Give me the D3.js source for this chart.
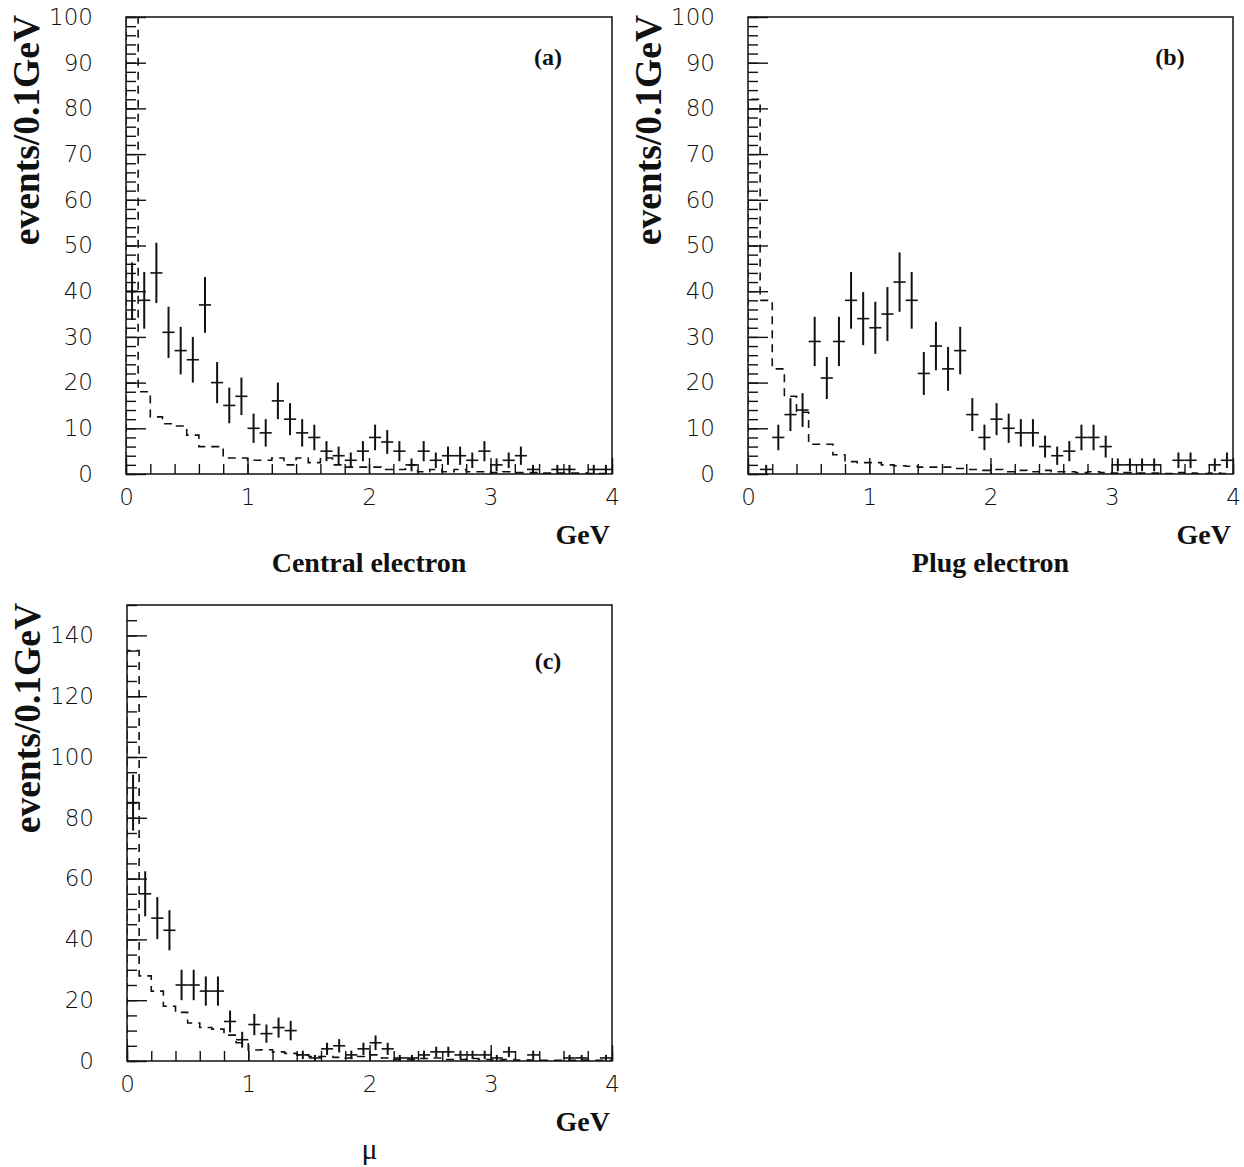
<!DOCTYPE html>
<html>
<head>
<meta charset="utf-8">
<script src="https://cdn.jsdelivr.net/npm/d3@7"></script>
<style>
body { margin: 0; background: #fff; }
svg { display: block; }
</style>
</head>
<body>
<svg id="chart" width="1244" height="1167"></svg>
<script>
// bin lower edges in GeV (bins are 0.1 GeV wide)
var binLow = [0.0, 0.1, 0.2, 0.3, 0.4, 0.5, 0.6, 0.7, 0.8, 0.9,
              1.0, 1.1, 1.2, 1.3, 1.4, 1.5, 1.6, 1.7, 1.8, 1.9,
              2.0, 2.1, 2.2, 2.3, 2.4, 2.5, 2.6, 2.7, 2.8, 2.9,
              3.0, 3.1, 3.2, 3.3, 3.4, 3.5, 3.6, 3.7, 3.8, 3.9];
var binWidth = 0.1;

// (a) central electron: data points, error bars, dashed histogram
var centralData = [40, 38, 44, 31, 27, 25, 37, 20, 15, 17,
                   10, 9, 16, 12, 9, 8, 5, 4, 3, 5,
                   8, 7, 5, 2, 5, 3, 4, 4, 3, 5,
                   2, 3, 4, 1, null, 1, 1, null, 1, 1];
var centralErr = [6.3, 6.2, 6.6, 5.6, 5.2, 5.0, 6.1, 4.5, 3.9, 4.1,
                  3.2, 3.0, 4.0, 3.5, 3.0, 2.8, 2.2, 2.0, 1.7, 2.2,
                  2.8, 2.6, 2.2, 1.4, 2.2, 1.7, 2.0, 2.0, 1.7, 2.2,
                  1.4, 1.7, 2.0, 1.0, 0, 1.0, 1.0, 0, 1.0, 1.0];
var centralBkg = [130, 18, 12.5, 11, 10.5, 8.5, 6, 6, 3.5, 3.5,
                  3, 3, 3.5, 2, 3.5, 2.5, 3.5, 2, 1.5, 1.5,
                  1.5, 1, 1, 2, 0.5, 1, 0.5, 1, 0.5, 0.5,
                  0.3, 0.5, 0.3, 0.3, 0.2, 0.2, 0.2, 0.2, 0.1, 0.1];

// (b) plug electron
var plugData = [null, 1, 8, 13, 14, 29, 21, 29, 38, 34,
                32, 35, 42, 38, 22, 28, 23, 27, 13, 8,
                12, 10, 9, 9, 6, 4, 5, 8, 8, 6,
                2, 2, 2, 2, null, 3, 3, null, 2, 3];
var plugErr = [0, 1.0, 2.8, 3.6, 3.7, 5.4, 4.6, 5.4, 6.2, 5.8,
               5.7, 5.9, 6.5, 6.2, 4.7, 5.3, 4.8, 5.2, 3.6, 2.8,
               3.5, 3.2, 3.0, 3.0, 2.4, 2.0, 2.2, 2.8, 2.8, 2.4,
               1.4, 1.4, 1.4, 1.4, 0, 1.7, 1.7, 0, 1.4, 1.7];
var plugBkg = [82, 38, 23, 17, 13.5, 6.5, 6.5, 4.2, 2.7, 2.5,
               2.5, 2, 1.8, 1.7, 1.5, 1.5, 1.5, 1.2, 1, 0.8,
               1, 0.5, 0.8, 0.5, 0.8, 0.5, 0.5, 0.3, 0.5, 0.3,
               0.2, 0.3, 0.2, 0.2, 0.1, 0.3, 0.2, 0.1, 0.2, 0.1];

// (c) muon
var muonData = [85, 55, 47, 43, 25, 25, 23, 23, 13, 7,
                12, 9, 11, 10, 2, 1, 4, 5, 2, 4,
                6, 4, 1, 1, 2, 3, 3, 2, 2, 2,
                1, 3, null, 2, null, null, 1, 1, null, 1];
var muonErr = [9.2, 7.4, 6.9, 6.6, 5.0, 5.0, 4.8, 4.8, 3.6, 2.6,
               3.5, 3.0, 3.3, 3.2, 1.4, 1.0, 2.0, 2.2, 1.4, 2.0,
               2.4, 2.0, 1.0, 1.0, 1.4, 1.7, 1.7, 1.4, 1.4, 1.4,
               1.0, 1.7, 0, 1.4, 0, 0, 1.0, 1.0, 0, 1.0];
var muonBkg = [135, 28, 23, 18, 16, 12.5, 11, 10.5, 8.5, 6,
               3.6, 3.7, 3, 2.5, 2, 1.5, 1.5, 1.2, 1, 1.5,
               2, 1, 0.5, 0.5, 0.8, 1, 0.5, 0.5, 0.8, 0.5,
               0.3, 0.5, 0.3, 0.3, 0.2, 0.2, 0.2, 0.3, 0.2, 0.2];

var xTickLabels = [0, 1, 2, 3, 4];
var yTicksAB = [0, 10, 20, 30, 40, 50, 60, 70, 80, 90, 100];
var yTicksC = [0, 20, 40, 60, 80, 100, 120, 140];

var panels = [
  {tag: '(a)', title: 'Central electron', titleBold: true,
   data: centralData, err: centralErr, bkg: centralBkg,
   left: 126, right: 612, top: 17, bottom: 474, yMax: 100,
   yMajor: yTicksAB, yMinorStep: 2, tagX: 548, tagY: 65},
  {tag: '(b)', title: 'Plug electron', titleBold: true,
   data: plugData, err: plugErr, bkg: plugBkg,
   left: 748, right: 1233, top: 17, bottom: 474, yMax: 100,
   yMajor: yTicksAB, yMinorStep: 2, tagX: 1170, tagY: 65},
  {tag: '(c)', title: '\u03bc', titleBold: false,
   data: muonData, err: muonErr, bkg: muonBkg,
   left: 127, right: 612, top: 605, bottom: 1061, yMax: 150,
   yMajor: yTicksC, yMinorStep: 5, tagX: 548, tagY: 669}
];

var ink = '#111';
var svg = d3.select('#chart');

function styleAxis(g) {
  g.select('.domain').remove();
  g.selectAll('line').attr('stroke', ink).attr('stroke-width', 1.4);
}

function drawPanel(p, idx) {
  var x = d3.scaleLinear().domain([0, 4]).range([p.left, p.right]);
  var y = d3.scaleLinear().domain([0, p.yMax]).range([p.bottom, p.top]);
  var g = svg.append('g');

  var clipId = 'clip' + idx;
  svg.append('clipPath').attr('id', clipId)
    .append('rect')
    .attr('x', p.left).attr('y', p.top)
    .attr('width', p.right - p.left).attr('height', p.bottom - p.top);

  // y axis ticks (inward)
  var yMinor = d3.range(0, p.yMax + 0.001, p.yMinorStep);
  g.append('g').attr('transform', 'translate(' + p.left + ',0)')
    .call(d3.axisLeft(y).tickValues(yMinor).tickSize(-10).tickFormat(''))
    .call(styleAxis);
  g.append('g').attr('transform', 'translate(' + p.left + ',0)')
    .call(d3.axisLeft(y).tickValues(p.yMajor).tickSize(-20).tickFormat(''))
    .call(styleAxis);
  var yl = g.append('g').attr('transform', 'translate(' + p.left + ',0)')
    .call(d3.axisLeft(y).tickValues(p.yMajor).tickSize(0).tickPadding(33).tickFormat(d3.format('d')))
    .call(styleAxis);
  yl.selectAll('text')
    .attr('font-family', '"DejaVu Sans", sans-serif')
    .attr('font-weight', 200)
    .attr('font-size', 23)
    .attr('fill', ink);

  // x axis ticks (inward)
  var xMinor = d3.range(0, 4.001, 0.2);
  g.append('g').attr('transform', 'translate(0,' + p.bottom + ')')
    .call(d3.axisBottom(x).tickValues(xMinor).tickSize(-10).tickFormat(''))
    .call(styleAxis);
  g.append('g').attr('transform', 'translate(0,' + p.bottom + ')')
    .call(d3.axisBottom(x).tickValues(xTickLabels).tickSize(-16).tickFormat(''))
    .call(styleAxis);
  var xl = g.append('g').attr('transform', 'translate(0,' + p.bottom + ')')
    .call(d3.axisBottom(x).tickValues(xTickLabels).tickSize(0).tickPadding(15).tickFormat(d3.format('d')))
    .call(styleAxis);
  xl.selectAll('text')
    .attr('font-family', '"DejaVu Sans", sans-serif')
    .attr('font-weight', 200)
    .attr('font-size', 23)
    .attr('fill', ink);

  var plot = g.append('g').attr('clip-path', 'url(#' + clipId + ')');

  // dashed histogram
  var pts = [[0, 0]];
  p.bkg.forEach(function(v, i) {
    pts.push([binLow[i], v]);
    pts.push([binLow[i] + binWidth, v]);
  });
  pts.push([4, 0]);
  plot.append('path')
    .attr('d', d3.line().x(function(d){ return x(d[0]); }).y(function(d){ return y(d[1]); })(pts))
    .attr('fill', 'none')
    .attr('stroke', ink)
    .attr('stroke-width', 1.6)
    .attr('stroke-dasharray', '8,6');

  // data crosses
  var pts2 = p.data.map(function(v, i) { return {lo: binLow[i], v: v, e: p.err[i]}; })
    .filter(function(d) { return d.v !== null; });
  var cross = plot.selectAll('.cross').data(pts2).enter().append('g').attr('class', 'cross');
  cross.append('line')
    .attr('x1', function(d){ return x(d.lo); })
    .attr('x2', function(d){ return x(d.lo + binWidth); })
    .attr('y1', function(d){ return y(d.v); })
    .attr('y2', function(d){ return y(d.v); })
    .attr('stroke', ink).attr('stroke-width', 1.6);
  cross.append('line')
    .attr('x1', function(d){ return x(d.lo + binWidth / 2); })
    .attr('x2', function(d){ return x(d.lo + binWidth / 2); })
    .attr('y1', function(d){ return y(d.v - d.e); })
    .attr('y2', function(d){ return y(d.v + d.e); })
    .attr('stroke', ink).attr('stroke-width', 2);

  // frame
  g.append('rect')
    .attr('x', p.left).attr('y', p.top)
    .attr('width', p.right - p.left).attr('height', p.bottom - p.top)
    .attr('fill', 'none').attr('stroke', ink).attr('stroke-width', 1.5);

  // texts
  g.append('text')
    .attr('transform', 'translate(' + (p.left - 87) + ',' + (p.top - 2) + ') rotate(-90)')
    .attr('text-anchor', 'end')
    .attr('font-family', '"Liberation Serif", "Times New Roman", serif')
    .attr('font-weight', 'bold')
    .attr('font-size', 37.5)
    .attr('fill', ink)
    .text('events/0.1GeV');

  g.append('text')
    .attr('x', p.tagX).attr('y', p.tagY)
    .attr('text-anchor', 'middle')
    .attr('font-family', '"Liberation Serif", "Times New Roman", serif')
    .attr('font-weight', 'bold')
    .attr('font-size', 24)
    .attr('fill', ink)
    .text(p.tag);

  g.append('text')
    .attr('x', p.right - 2).attr('y', p.bottom + 70)
    .attr('text-anchor', 'end')
    .attr('font-family', '"Liberation Serif", "Times New Roman", serif')
    .attr('font-weight', 'bold')
    .attr('font-size', 28)
    .attr('fill', ink)
    .text('GeV');

  g.append('text')
    .attr('x', (p.left + p.right) / 2).attr('y', p.bottom + 98)
    .attr('text-anchor', 'middle')
    .attr('font-family', '"Liberation Serif", "Times New Roman", serif')
    .attr('font-weight', p.titleBold ? 'bold' : 'normal')
    .attr('font-size', p.titleBold ? 28 : 30)
    .attr('fill', ink)
    .text(p.title);
}

panels.forEach(drawPanel);
</script>
</body>
</html>
